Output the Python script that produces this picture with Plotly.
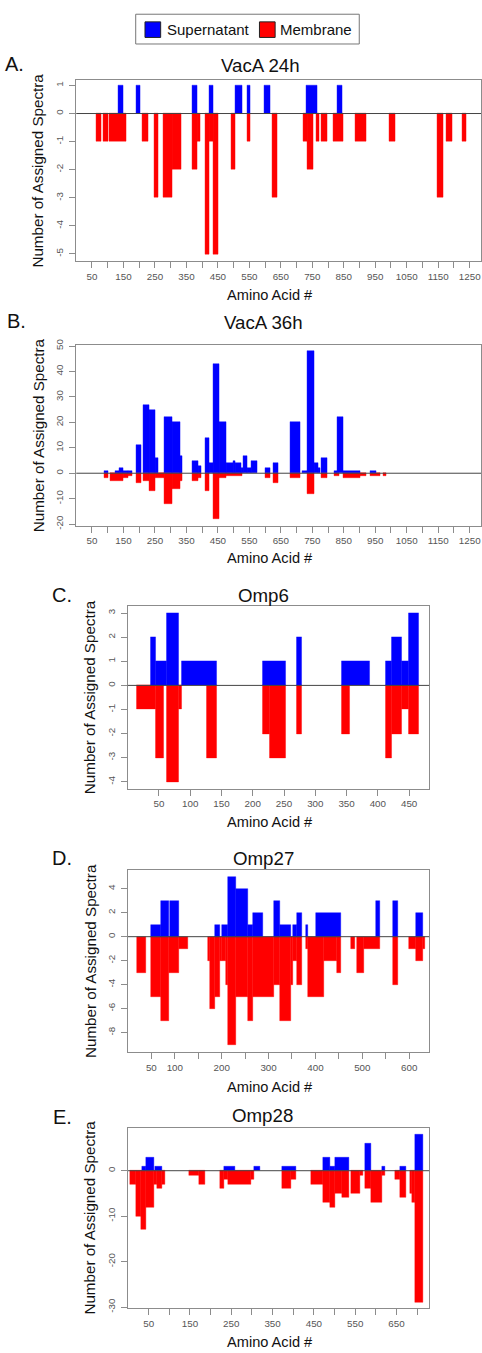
import plotly.graph_objects as go

W, H = 482, 1353

# ---------------- data (amino acid start / end, spectra counts) ----------------
# A. VacA 24h
a_sup_start = [135, 191, 370, 422, 505, 542, 597, 730, 829]
a_sup_end = [148, 204, 386, 434, 527, 552, 615, 766, 846]
a_sup_count = [1, 1, 1, 1, 1, 1, 1, 1, 1]
a_mem_start = [64, 86, 106, 211, 249, 277, 305, 368, 386, 410, 422, 434, 492, 542, 622,
               720, 733, 764, 777, 817, 887, 994, 1146, 1175, 1225]
a_mem_end = [80, 101, 160, 230, 260, 305, 333, 386, 394, 422, 434, 452, 506, 552, 638,
             733, 754, 773, 796, 847, 920, 1013, 1165, 1194, 1240]
a_mem_count = [-1, -1, -1, -1, -3, -3, -2, -2, -1, -5, -1, -5, -2, -1, -3,
               -1, -2, -1, -1, -1, -1, -1, -3, -1, -1]

# B. VacA 36h
b_sup_start = [88, 124, 137, 150, 164, 192, 213, 232, 251, 279, 305, 331, 370, 387, 410, 423,
               434, 454, 478, 499, 506, 525, 532, 544, 555, 599, 625, 679, 719, 733, 756, 768,
               777, 819, 829, 848, 934]
b_sup_end = [103, 137, 150, 164, 179, 205, 232, 251, 261, 305, 331, 336, 387, 396, 423, 434,
             454, 475, 499, 506, 525, 532, 544, 555, 574, 617, 641, 712, 733, 756, 768, 775,
             798, 829, 848, 903, 953]
b_sup_count = [1, 1, 2, 1, 1, 11, 27, 25, 6, 22, 20, 7, 5, 3, 14, 4,
               43, 20, 4, 5, 4, 2, 7, 2, 5, 2, 4, 20, 1, 48, 4, 2,
               6, 1, 22, 1, 1]
b_mem_start = [88, 108, 150, 164, 192, 213, 232, 251, 279, 305, 331, 370, 387, 410, 434, 454,
               478, 599, 625, 679, 733, 777, 819, 848, 903, 934, 974]
b_mem_end = [103, 150, 164, 179, 205, 232, 251, 279, 305, 331, 336, 387, 396, 423, 454, 475,
             528, 617, 641, 712, 756, 798, 834, 903, 921, 965, 986]
b_mem_count = [-2, -3, -2, -1, -4, -3, -7, -2, -12, -6, -3, -3, -2, -7, -18, -2,
               -1, -2, -4, -2, -8, -2, -1, -2, -1, -1, -1]

# C. Omp6
c_sup_start = [37, 44, 62, 87, 216, 270, 343, 413, 422, 438, 450]
c_sup_end = [44, 62, 81, 143, 252, 279, 387, 422, 438, 450, 465]
c_sup_count = [2, 1, 3, 1, 1, 2, 1, 1, 2, 1, 3]
c_mem_start = [15, 44, 62, 81, 127, 216, 227, 270, 343, 413, 422, 438, 450]
c_mem_end = [44, 58, 81, 86, 143, 227, 252, 279, 355, 422, 438, 450, 465]
c_mem_count = [-1, -3, -4, -1, -3, -2, -3, -2, -2, -3, -2, -1, -2]

# D. Omp27
d_sup_start = [49, 70, 89, 186, 200, 213, 231, 257, 266, 311, 325, 351, 361, 379, 401, 530, 566, 614]
d_sup_end = [70, 87, 109, 196, 213, 231, 257, 266, 289, 325, 348, 361, 372, 384, 454, 537, 575, 629]
d_sup_count = [1, 3, 3, 1, 1, 5, 4, 1, 2, 3, 1, 1, 2, 1, 2, 3, 3, 2]
d_mem_start = [20, 49, 70, 87, 109, 171, 175, 186, 196, 200, 209, 213, 231, 257, 266, 311,
               325, 348, 351, 361, 379, 384, 419, 446, 476, 489, 504, 566, 600, 614, 629]
d_mem_end = [39, 70, 87, 109, 129, 175, 186, 196, 200, 209, 213, 231, 257, 266, 311, 325,
             348, 351, 361, 372, 384, 419, 446, 454, 484, 504, 537, 575, 614, 629, 634]
d_mem_count = [-3, -5, -7, -3, -1, -2, -6, -5, -2, -2, -4, -9, -5, -7, -5, -4,
               -7, -4, -2, -4, -1, -5, -2, -3, -1, -3, -1, -4, -1, -2, -1]

# E. Omp28
e_sup_start = [35, 44, 66, 233, 306, 373, 473, 490, 502, 574, 614, 658, 696]
e_sup_end = [44, 62, 82, 259, 320, 407, 490, 502, 535, 588, 622, 674, 714]
e_sup_count = [1, 3, 1, 1, 1, 1, 3, 1, 3, 6, 1, 1, 8]
e_mem_start = [4, 20, 32, 44, 62, 70, 82, 147, 173, 223, 233, 242, 298, 373, 395,
               443, 471, 490, 502, 519, 539, 562, 574, 588, 614, 647, 658, 682, 687, 696]
e_mem_end = [20, 32, 44, 62, 70, 82, 90, 173, 187, 233, 242, 298, 306, 395, 407,
             471, 490, 502, 519, 535, 562, 568, 588, 614, 622, 658, 674, 687, 696, 714]
e_mem_count = [-3, -10, -13, -8, -3, -4, -3, -1, -3, -4, -2, -3, -2, -4, -2,
               -3, -7, -8, -5, -6, -5, -1, -4, -7, -1, -2, -6, -5, -7, -29]

# tick settings
ab_ticks = list(range(50, 1300, 50))
ab_labels = [str(v) if v % 100 == 50 else "" for v in ab_ticks]
c_ticks = list(range(50, 500, 50))
c_labels = [str(v) for v in c_ticks]
d_ticks = list(range(50, 650, 50))
d_labels = [str(v) if (v == 50 or v % 100 == 0) else "" for v in d_ticks]
e_ticks = list(range(50, 750, 50))
e_labels = [str(v) if v % 100 == 50 else "" for v in e_ticks]

titles = ["VacA 24h", "VacA 36h", "Omp6", "Omp27", "Omp28"]
letters = ["A.", "B.", "C.", "D.", "E."]

BLUE = "#0000FF"
RED = "#FF0000"
FONT = "Liberation Sans, Arial, sans-serif"

panels = [
    dict(sup=(a_sup_start, a_sup_end, a_sup_count), mem=(a_mem_start, a_mem_end, a_mem_count),
         box=(76.4, 482, 75, 257), xr=[0, 1286], yr=[-5.25, 1.18],
         xt=(ab_ticks, ab_labels), yt=list(range(-5, 2)),
         title_xy=(261, 60), letter_xy=(15, 58), ylab_x=38, xlab_y=291),
    dict(sup=(b_sup_start, b_sup_end, b_sup_count), mem=(b_mem_start, b_mem_end, b_mem_count),
         box=(76.4, 482, 341.7, 524), xr=[0, 1286], yr=[-20.65, 50.45],
         xt=(ab_ticks, ab_labels), yt=list(range(-20, 60, 10)),
         title_xy=(264, 319), letter_xy=(17, 318), ylab_x=38, xlab_y=557),
    dict(sup=(c_sup_start, c_sup_end, c_sup_count), mem=(c_mem_start, c_mem_end, c_mem_count),
         box=(128, 430, 605, 789), xr=[0, 482], yr=[-4.28, 3.29],
         xt=(c_ticks, c_labels), yt=list(range(-4, 4)),
         title_xy=(264, 594), letter_xy=(62, 594), ylab_x=90, xlab_y=823),
    dict(sup=(d_sup_start, d_sup_end, d_sup_count), mem=(d_mem_start, d_mem_end, d_mem_count),
         box=(128.2, 430, 871, 1055), xr=[0, 642.5], yr=[-9.64, 5.56],
         xt=(d_ticks, d_labels), yt=list(range(-8, 6, 2)),
         title_xy=(264, 859), letter_xy=(62, 859), ylab_x=90, xlab_y=1090),
    dict(sup=(e_sup_start, e_sup_end, e_sup_count), mem=(e_mem_start, e_mem_end, e_mem_count),
         box=(128.3, 430, 1130.7, 1312.7), xr=[0, 729], yr=[-30.2, 9.5],
         xt=(e_ticks, e_labels), yt=list(range(-30, 10, 10)),
         title_xy=(263, 1119), letter_xy=(63, 1120), ylab_x=90, xlab_y=1347),
]


def px_x(v):
    return v / W


def px_y(v):
    return 1 - v / H


fig = go.Figure()
shapes = []
annotations = []
layout_axes = {}

for i, p in enumerate(panels, start=1):
    xa = "x" if i == 1 else f"x{i}"
    ya = "y" if i == 1 else f"y{i}"
    for (starts, ends, counts), col, name in ((p["mem"], RED, "Membrane"), (p["sup"], BLUE, "Supernatant")):
        centers = [(s + e) / 2 for s, e in zip(starts, ends)]
        widths = [e - s for s, e in zip(starts, ends)]
        fig.add_trace(go.Bar(
            x=centers, y=counts, width=widths, base=0,
            marker=dict(color=col, line=dict(color=col, width=0.4)),
            name=name, showlegend=False, xaxis=xa, yaxis=ya,
        ))
    l, r, t, b = p["box"]
    axis_common = dict(showline=True, mirror=True, linecolor="#8c8c8c", linewidth=1,
                       ticks="outside", ticklen=6, tickwidth=1, tickcolor="#8c8c8c",
                       showgrid=False, zeroline=False,
                       tickfont=dict(family=FONT, size=9.8, color="#555555"))
    layout_axes["xaxis" if i == 1 else f"xaxis{i}"] = dict(
        domain=[px_x(l), min(1.0, px_x(r))], range=p["xr"], anchor=ya,
        tickmode="array", tickvals=p["xt"][0], ticktext=p["xt"][1], **axis_common)
    layout_axes["yaxis" if i == 1 else f"yaxis{i}"] = dict(
        domain=[px_y(b), px_y(t)], range=p["yr"], anchor=xa,
        tickmode="array", tickvals=p["yt"], ticktext=[str(v) for v in p["yt"]],
        tickangle=-90, ticklabelstandoff=2, **axis_common)
    # zero line
    shapes.append(dict(type="line", xref=f"{xa} domain", yref=ya, x0=0, x1=1, y0=0, y1=0,
                       line=dict(color="#444444", width=1), layer="above"))
    # titles
    tx, ty = p["title_xy"]
    annotations.append(dict(text=titles[i - 1], x=px_x(tx), y=px_y(ty), xref="paper", yref="paper",
                            showarrow=False, xanchor="center", yanchor="middle",
                            font=dict(family=FONT, size=18.7, color="#111111")))
    lx, ly = p["letter_xy"]
    annotations.append(dict(text=letters[i - 1], x=px_x(lx), y=px_y(ly), xref="paper", yref="paper",
                            showarrow=False, xanchor="center", yanchor="middle",
                            font=dict(family=FONT, size=20, color="#111111")))
    annotations.append(dict(text="Number of Assigned Spectra", x=px_x(p["ylab_x"]),
                            y=px_y((t + b) / 2), xref="paper", yref="paper", textangle=-90,
                            showarrow=False, xanchor="center", yanchor="middle",
                            font=dict(family=FONT, size=15.2, color="#111111")))
    annotations.append(dict(text="Amino Acid #", x=px_x(270.5), y=px_y(p["xlab_y"]),
                            xref="paper", yref="paper", showarrow=False,
                            xanchor="center", yanchor="middle",
                            font=dict(family=FONT, size=14.6, color="#111111")))

# legend drawn as in the original (box with two keys)
shapes.append(dict(type="rect", xref="paper", yref="paper", x0=px_x(136), x1=px_x(360),
                   y0=px_y(38.3), y1=px_y(8.3), line=dict(color="#777777", width=1),
                   fillcolor="rgba(0,0,0,0)"))
for x0, col in ((145.3, BLUE), (260, RED)):
    shapes.append(dict(type="rect", xref="paper", yref="paper", x0=px_x(x0), x1=px_x(x0 + 15.7),
                       y0=px_y(31.7), y1=px_y(16), line=dict(color="#222222", width=1),
                       fillcolor=col))
for x0, txt in ((165.0, "Supernatant"), (278.5, "Membrane")):
    annotations.append(dict(text=txt, x=px_x(x0), y=px_y(24), xref="paper", yref="paper",
                            showarrow=False, xanchor="left", yanchor="middle",
                            font=dict(family=FONT, size=15, color="#111111")))

fig.update_layout(
    width=W, height=H, autosize=False,
    margin=dict(l=0, r=0, t=0, b=0),
    paper_bgcolor="white", plot_bgcolor="white",
    barmode="overlay", bargap=0,
    shapes=shapes, annotations=annotations,
    showlegend=False,
    **layout_axes,
)

fig.write_html("out.html", config={"displayModeBar": False},
               post_script="document.body.style.margin='0';document.body.style.overflow='hidden';")
